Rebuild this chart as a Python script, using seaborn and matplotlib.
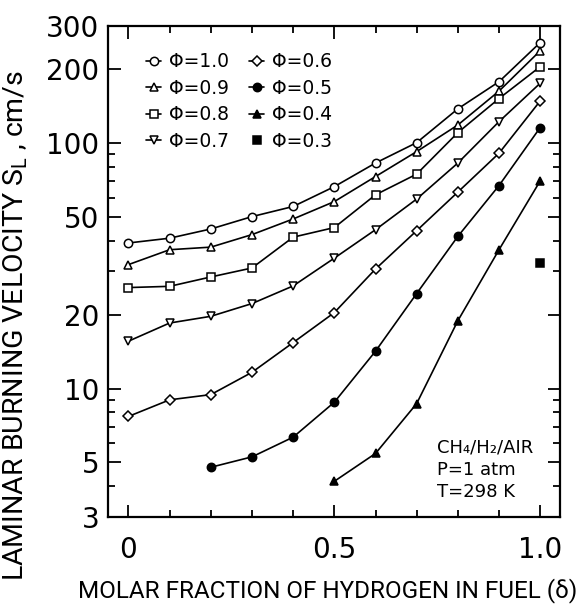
import matplotlib
matplotlib.use("Agg")
import matplotlib.pyplot as plt
import matplotlib.ticker as mticker
import numpy as np
import pandas as pd
import seaborn as sns

# hydrogen fraction in fuel
delta = [0.0, 0.1, 0.2, 0.3, 0.4, 0.5, 0.6, 0.7, 0.8, 0.9, 1.0]

# laminar burning velocity, cm/s
phi_10 = [39.2, 41.0, 44.7, 50.2, 55.2, 66.5, 83.0, 100.5, 138.0, 178.0, 257.0]
phi_09 = [32.0, 36.8, 37.7, 42.4, 49.1, 57.8, 73.1, 92.4, 118.6, 163.0, 238.0]
phi_08 = [25.8, 26.1, 28.5, 31.0, 41.4, 45.3, 61.6, 74.8, 110.4, 152.0, 205.0]
phi_07 = [15.6, 18.5, 19.7, 22.2, 26.2, 34.0, 44.4, 59.2, 83.0, 122.4, 175.5]
phi_06 = [7.7, 9.0, 9.45, 11.65, 15.4, 20.4, 30.7, 44.0, 63.2, 91.0, 148.6]
delta_05 = [0.2, 0.3, 0.4, 0.5, 0.6, 0.7, 0.8, 0.9, 1.0]
phi_05 = [4.78, 5.27, 6.34, 8.8, 14.2, 24.4, 41.7, 67.2, 115.8]
delta_04 = [0.5, 0.6, 0.7, 0.8, 0.9, 1.0]
phi_04 = [4.19, 5.44, 8.69, 18.9, 36.8, 70.2]
delta_03 = [1.0]
phi_03 = [32.5]

series = [
    ("Φ=1.0", delta, phi_10, "o", "white"),
    ("Φ=0.9", delta, phi_09, "^", "white"),
    ("Φ=0.8", delta, phi_08, "s", "white"),
    ("Φ=0.7", delta, phi_07, "v", "white"),
    ("Φ=0.6", delta, phi_06, "D", "white"),
    ("Φ=0.5", delta_05, phi_05, "o", "black"),
    ("Φ=0.4", delta_04, phi_04, "^", "black"),
    ("Φ=0.3", delta_03, phi_03, "s", "black"),
]

sns.set_style("ticks")
plt.rcParams["font.family"] = ["DejaVu Sans"]
plt.rcParams["mathtext.default"] = "regular"
plt.rcParams["text.color"] = "black"
plt.rcParams["axes.labelcolor"] = "black"
plt.rcParams["xtick.color"] = "black"
plt.rcParams["ytick.color"] = "black"
label_font = ["Roboto", "DejaVu Sans"]

fig = plt.figure(figsize=(5.83, 6.06), dpi=100)
ax = fig.add_axes([0.185, 0.147, 0.7755, 0.81])

for label, x, y, mk, fc in series:
    df = pd.DataFrame({"delta": x, "SL": y})
    sns.lineplot(data=df, x="delta", y="SL", ax=ax, color="black", linewidth=1.2,
                 marker=mk, markersize=6 if mk != "D" else 5, markerfacecolor=fc,
                 markeredgecolor="black", markeredgewidth=1.1, label=label,
                 linestyle="-" if len(x) > 1 else "none")

ax.set_yscale("log")
ax.set_xlim(-0.05, 1.048)
ax.set_ylim(3, 300)

ax.yaxis.set_major_locator(mticker.FixedLocator([3, 5, 10, 20, 50, 100, 200, 300]))
ax.yaxis.set_major_formatter(mticker.FixedFormatter(["3", "5", "10", "20", "50", "100", "200", "300"]))
ax.yaxis.set_minor_locator(mticker.FixedLocator([4, 6, 7, 8, 9, 30, 40, 60, 70, 80, 90]))
ax.yaxis.set_minor_formatter(mticker.NullFormatter())
ax.xaxis.set_major_locator(mticker.FixedLocator([0, 0.5, 1.0]))
ax.xaxis.set_major_formatter(mticker.FixedFormatter(["0", "0.5", "1.0"]))
ax.xaxis.set_minor_locator(mticker.FixedLocator([0.1, 0.2, 0.3, 0.4, 0.6, 0.7, 0.8, 0.9]))

ax.tick_params(which="both", direction="in", top=True, right=True, width=1.3, color="black")
ax.tick_params(which="major", length=9)
ax.tick_params(which="minor", length=5)
ax.tick_params(axis="x", which="major", labelsize=20, pad=14)
ax.tick_params(axis="y", which="major", labelsize=20, pad=6)
for sp in ax.spines.values():
    sp.set_linewidth(1.6)
    sp.set_color("black")

ax.set_xlabel("MOLAR FRACTION OF HYDROGEN IN FUEL (δ)", fontsize=17.5, family=label_font)
ax.xaxis.set_label_coords(0.485, -0.124)
ax.set_ylabel(r"LAMINAR BURNING VELOCITY $S_L$ , cm/s", fontsize=20.5, family=label_font)
ax.yaxis.set_label_coords(-0.173, 0.39)

ax.legend(loc="upper left", bbox_to_anchor=(0.085, 0.947), ncol=2, frameon=False,
          fontsize=13.5, handlelength=0.8, handletextpad=0.4, columnspacing=1.1,
          labelspacing=0.4, borderpad=0, borderaxespad=0)

ax.text(0.728, 0.16, "CH₄/H₂/AIR\nP=1 atm\nT=298 K", transform=ax.transAxes,
        fontsize=13, va="top", ha="left", linespacing=1.3)

fig.savefig("out.png", dpi=100)
